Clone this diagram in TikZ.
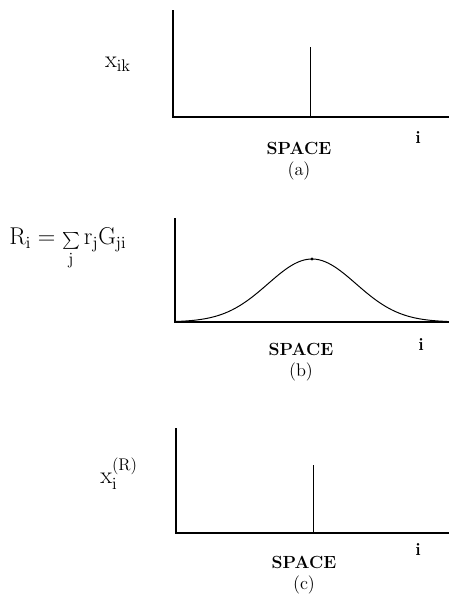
\documentclass[tikz,border=0pt]{standalone}
\usepackage{amsmath}
\usepackage{tikz}
\usetikzlibrary{positioning}

\begin{document}
\begin{tikzpicture}[
    x=0.025cm, y=-0.025cm,
    axis/.style={line width=0.8pt},
    spike/.style={line width=0.7pt},
    lbl/.style={font=\fontsize{13}{15}\selectfont, inner sep=0pt},
    tag/.style={font=\fontsize{12.5}{15}\selectfont\bfseries, inner sep=0pt},
    ylbl/.style={font=\LARGE, inner sep=0pt}
]
    \useasboundingbox (0,0) rectangle (449,600);

    % Panel (a)
    \coordinate (oa) at (173,117);
    \draw[axis] (173,10) -- (oa) -- (449,117);
    \draw[spike] (310,117) -- (310,47);
    \node[ylbl] (xik) at (118,64) {$\mathrm{x}_{\mathrm{ik}}$};
    \node[tag] (spacea) at (299,148) {SPACE};
    \node[lbl, below=5pt of spacea] (capa) {(a)};
    \node[tag] (ia) at (418,138) {i};

    % Panel (b)
    \coordinate (ob) at (175,322);
    \draw[axis] (175,218) -- (ob) -- (449,322);
    \draw[line width=0.7pt] plot[domain=176:447, samples=90, smooth]
        (\x, {322-63*exp(-((\x-312)/44)^2/2)});
    \fill (312,259) circle (1.6);
    \node[ylbl, anchor=west] (rsum) at (9,249)
        {$\mathrm{R}_{\mathrm{i}} = \mathop{\scriptstyle\sum}\limits_{\mathrm{j}} \mathrm{r}_{\mathrm{j}} \mathrm{G}_{\mathrm{ji}}$};
    \node[tag] (spaceb) at (301,349) {SPACE};
    \node[lbl, below=5pt of spaceb] (capb) {(b)};
    \node[tag] (ib) at (421,345) {i};

    % Panel (c)
    \coordinate (oc) at (176,533);
    \draw[axis] (176,428) -- (oc) -- (449,533);
    \draw[spike] (313,533) -- (313,465);
    \node[ylbl] (xr) at (119,474) {$\mathrm{x}_{\mathrm{i}}^{(\mathrm{R})}$};
    \node[tag] (spacec) at (304,562) {SPACE};
    \node[lbl, below=5pt of spacec] (capc) {(c)};
    \node[tag] (ic) at (418,550) {i};

\end{tikzpicture}
\end{document}
